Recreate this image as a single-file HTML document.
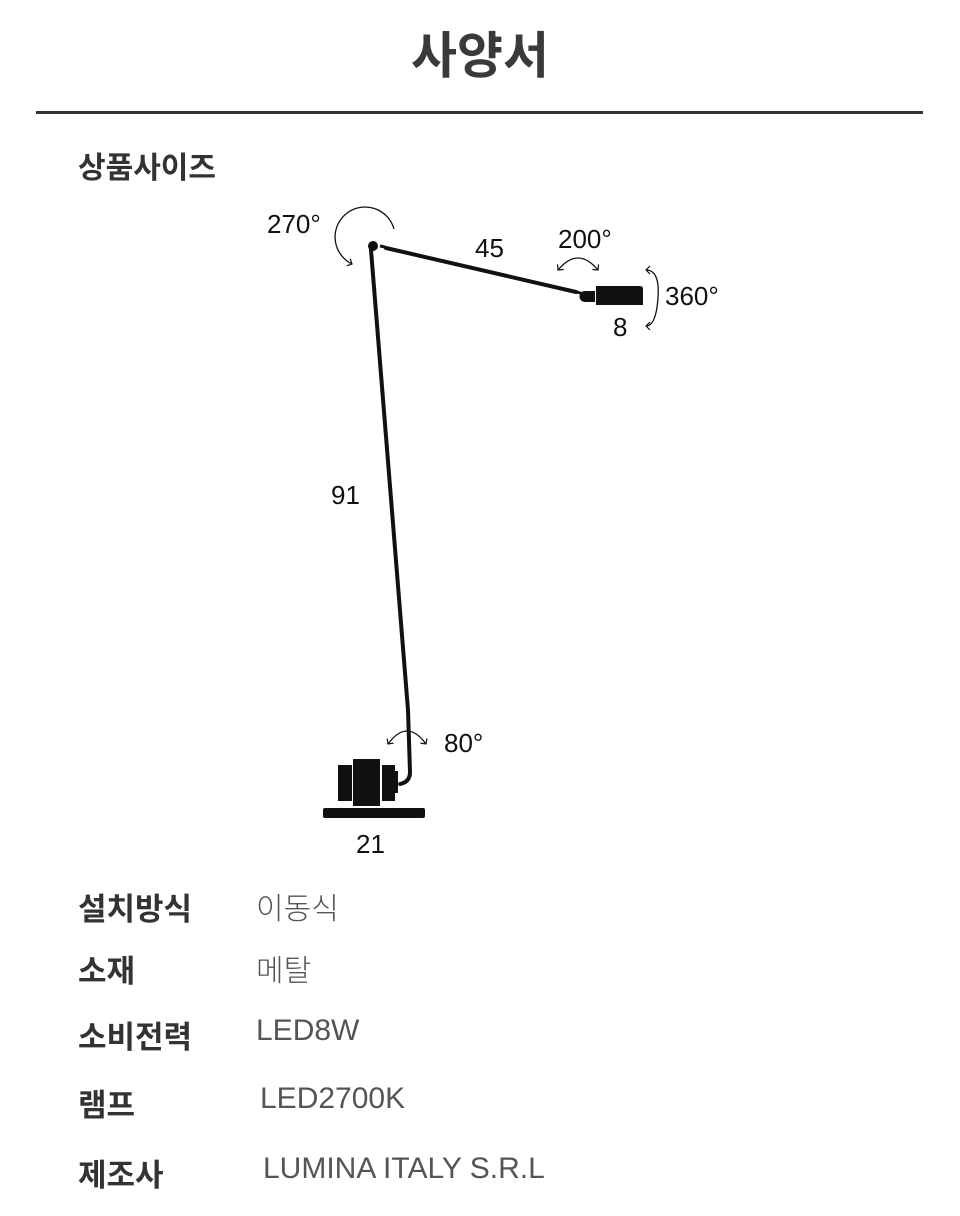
<!DOCTYPE html>
<html><head><meta charset="utf-8"><style>
body{margin:0;width:960px;height:1216px;background:#fff;font-family:"Liberation Sans","Noto Sans CJK KR",sans-serif;color:#333;position:relative;overflow:hidden}
.t{position:absolute;white-space:nowrap}
.k{font-weight:bold;font-size:31px;color:#333;left:78px}
.v{font-size:30px;color:#555;font-weight:300}
</style></head><body>
<div class="t" style="left:0;width:960px;text-align:center;top:16px;font-size:50px;font-weight:bold;color:#3a3a3a">사양서</div>
<div style="position:absolute;left:36px;top:111px;width:887px;height:3px;background:#333"></div>
<div class="t k" style="top:143px;font-size:30px">상품사이즈</div>
<svg width="960" height="1216" style="position:absolute;left:0;top:0" font-family="Liberation Sans, sans-serif" font-size="26" fill="#111">
<defs><marker id="a" markerWidth="10" markerHeight="10" refX="5" refY="5" orient="auto-start-reverse" markerUnits="userSpaceOnUse"><path d="M1,1 L5,5 L1,9" fill="none" stroke="#111" stroke-width="1.2"/></marker></defs>
<g stroke="#111" stroke-width="4" fill="none" stroke-linecap="round">
<line x1="371" y1="250" x2="408" y2="710"/>
<path d="M408,710 L410,772 Q410,782 400,784"/>
<line x1="386" y1="248" x2="576" y2="292"/>
</g>
<line x1="380" y1="246" x2="385" y2="247" stroke="#111" stroke-width="3"/>
<line x1="577" y1="292" x2="583" y2="294" stroke="#111" stroke-width="3"/>
<circle cx="373" cy="246" r="5"/>
<path d="M585,291 h10 v11 h-10 a5.5,5.5 0 0 1 0,-11z"/>
<path d="M596,286 h44 q3,0 3,3 v16 h-47z"/>
<rect x="338" y="765" width="14" height="36"/>
<rect x="353" y="759" width="27" height="47"/>
<rect x="382" y="765" width="13" height="36"/>
<rect x="395" y="771" width="3" height="22"/>
<rect x="323" y="808" width="102" height="10" rx="2"/>
<g stroke="#111" stroke-width="1.3" fill="none">
<path d="M394,229 A30,30 0 1 0 352,264" marker-end="url(#a)"/>
<path d="M558,270 Q578,246 598,270" marker-start="url(#a)" marker-end="url(#a)"/>
<path d="M646,270 Q660,270 658,298 Q656,326 646,326" marker-start="url(#a)" marker-end="url(#a)"/>
<path d="M388,744 Q407,718 426,744" marker-start="url(#a)" marker-end="url(#a)"/>
</g>
<text x="267" y="233">270°</text>
<text x="475" y="257">45</text>
<text x="558" y="248">200°</text>
<text x="665" y="305">360°</text>
<text x="613" y="336">8</text>
<text x="331" y="504">91</text>
<text x="444" y="752">80°</text>
<text x="356" y="853">21</text>
</svg>
<div class="t k" style="top:884px">설치방식</div><div class="t v" style="left:256px;top:884px">이동식</div>
<div class="t k" style="top:946px">소재</div><div class="t v" style="left:256px;top:946px">메탈</div>
<div class="t k" style="top:1012px">소비전력</div><div class="t v" style="left:256px;top:1014px">LED8W</div>
<div class="t k" style="top:1080px">램프</div><div class="t v" style="left:260px;top:1082px">LED2700K</div>
<div class="t k" style="top:1150px">제조사</div><div class="t v" style="left:263px;top:1152px">LUMINA ITALY S.R.L</div>
</body></html>
